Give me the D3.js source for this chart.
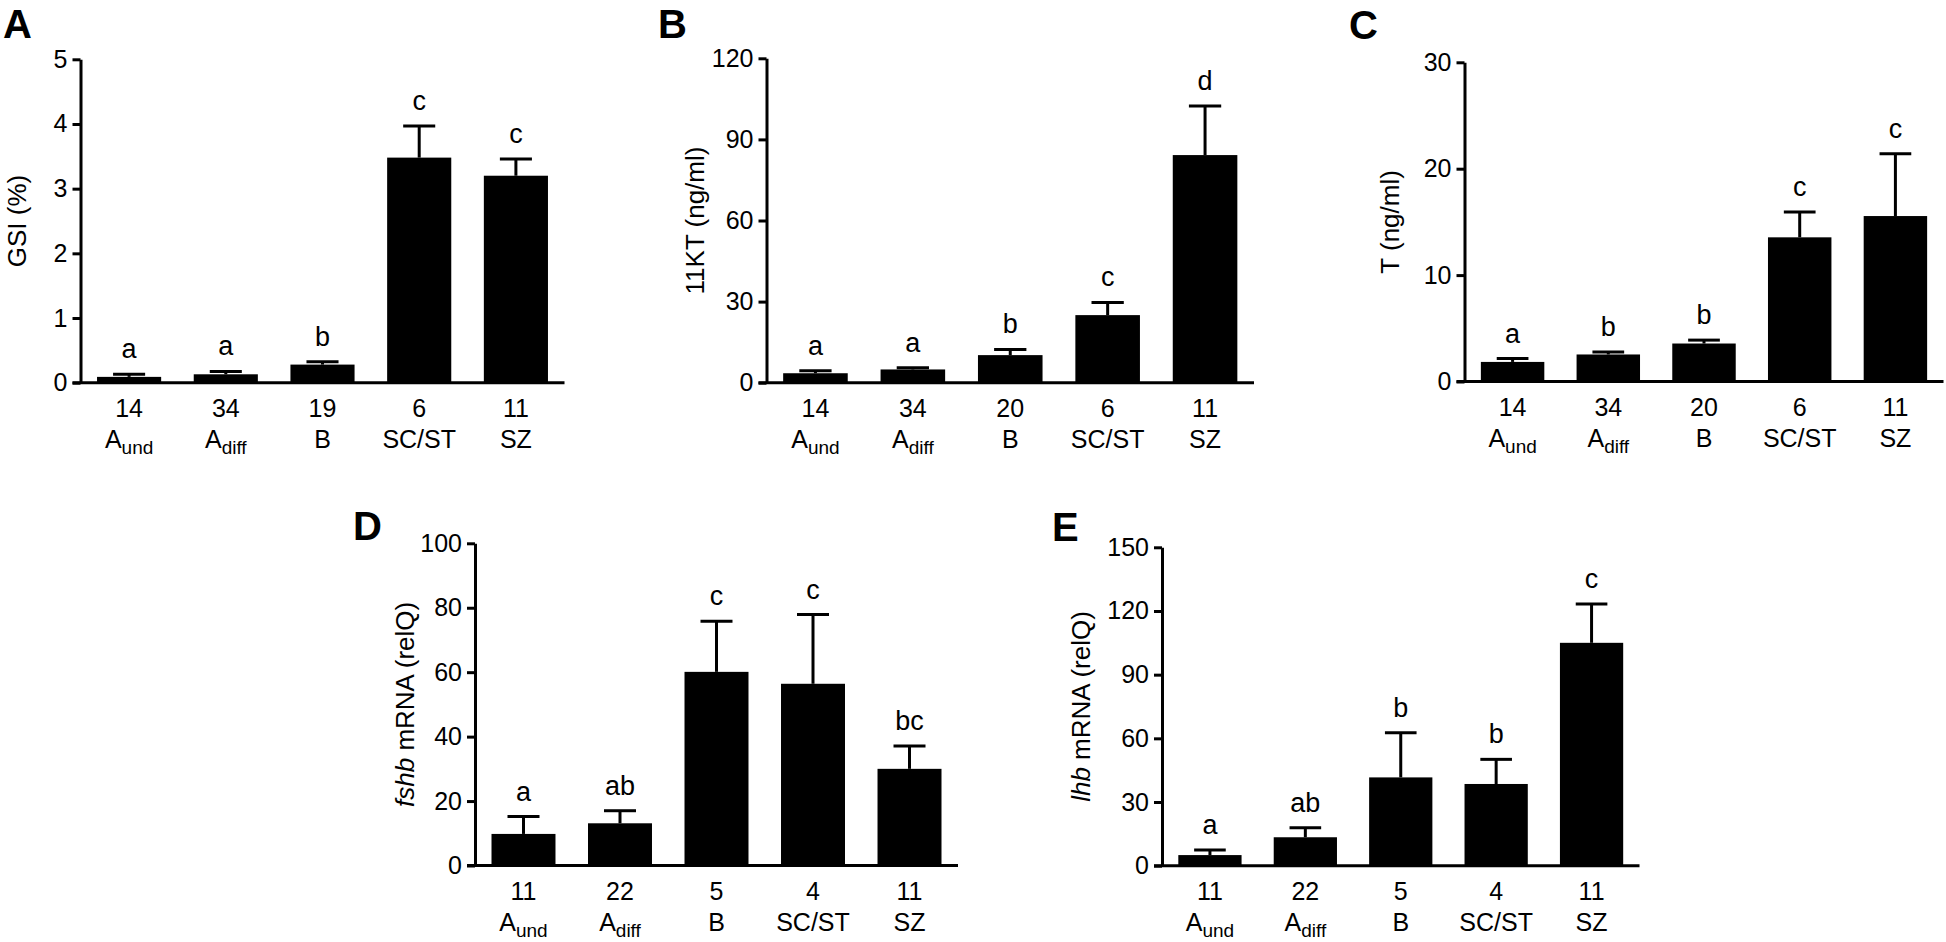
<!DOCTYPE html>
<html>
<head>
<meta charset="utf-8">
<script src="https://cdn.jsdelivr.net/npm/d3@7"></script>
<style>
  html, body { margin: 0; padding: 0; background: #ffffff; }
  svg { display: block; }
  text { font-family: "Liberation Sans", Arial, Helvetica, sans-serif; fill: #000; }
</style>
</head>
<body>
<svg id="chart" width="1946" height="942"></svg>
<script>
// ---------------- DATA ----------------
const catMain = ["A", "A", "B", "SC/ST", "SZ"];
const catSub  = ["und", "diff", "", "", ""];

// Panel A: GSI (%)
const gsiN      = [14, 34, 19, 6, 11];
const gsiMean   = [0.09, 0.13, 0.28, 3.48, 3.20];
const gsiSem    = [0.04, 0.045, 0.045, 0.49, 0.26];
const gsiLetters = ["a", "a", "b", "c", "c"];
const gsiTicks  = [0, 1, 2, 3, 4, 5];

// Panel B: 11KT (ng/ml)
const ktN       = [14, 34, 20, 6, 11];
const ktMean    = [3.5, 4.9, 10.2, 25.0, 84.2];
const ktSem     = [0.9, 0.6, 2.1, 4.7, 18.2];
const ktLetters = ["a", "a", "b", "c", "d"];
const ktTicks   = [0, 30, 60, 90, 120];

// Panel C: T (ng/ml)
const tN        = [14, 34, 20, 6, 11];
const tMean     = [1.84, 2.54, 3.57, 13.55, 15.55];
const tSem      = [0.32, 0.24, 0.32, 2.38, 5.85];
const tLetters  = ["a", "b", "b", "c", "c"];
const tTicks    = [0, 10, 20, 30];

// Panel D: fshb mRNA (relQ)
const fshbN     = [11, 22, 5, 4, 11];
const fshbMean  = [9.8, 13.1, 60.1, 56.4, 30.0];
const fshbSem   = [5.4, 3.9, 15.7, 21.5, 7.1];
const fshbLetters = ["a", "ab", "c", "c", "bc"];
const fshbTicks = [0, 20, 40, 60, 80, 100];

// Panel E: lhb mRNA (relQ)
const lhbN      = [11, 22, 5, 4, 11];
const lhbMean   = [5.0, 13.4, 41.6, 38.5, 105.0];
const lhbSem    = [2.4, 4.5, 21.0, 11.6, 18.3];
const lhbLetters = ["a", "ab", "b", "b", "c"];
const lhbTicks  = [0, 30, 60, 90, 120, 150];

// ---------------- PANELS ----------------
const panels = [
  { tag: "A", title: [{t: "GSI (%)"}], n: gsiN, mean: gsiMean, sem: gsiSem, letters: gsiLetters, ticks: gsiTicks,
    x0: 80.5, x1: 564.5, yTop: 59.3, yBot: 382.7, titleX: 17, tagX: 3, tagY: 38 },
  { tag: "B", title: [{t: "11KT (ng/ml)"}], n: ktN, mean: ktMean, sem: ktSem, letters: ktLetters, ticks: ktTicks,
    x0: 766.5, x1: 1254, yTop: 58.3, yBot: 382.7, titleX: 695, tagX: 658, tagY: 38 },
  { tag: "C", title: [{t: "T (ng/ml)"}], n: tN, mean: tMean, sem: tSem, letters: tLetters, ticks: tTicks,
    x0: 1464.5, x1: 1943.5, yTop: 62.3, yBot: 381.5, titleX: 1390, tagX: 1349, tagY: 39 },
  { tag: "D", title: [{t: "fshb", it: true}, {t: " mRNA (relQ)"}], n: fshbN, mean: fshbMean, sem: fshbSem, letters: fshbLetters, ticks: fshbTicks,
    x0: 475, x1: 958, yTop: 543.3, yBot: 865.5, titleX: 405, tagX: 353, tagY: 540 },
  { tag: "E", title: [{t: "lhb", it: true}, {t: " mRNA (relQ)"}], n: lhbN, mean: lhbMean, sem: lhbSem, letters: lhbLetters, ticks: lhbTicks,
    x0: 1162, x1: 1639.5, yTop: 547.3, yBot: 865.7, titleX: 1081, tagX: 1052, tagY: 541 }
];

const svg = d3.select("#chart");
svg.append("rect").attr("width", 1946).attr("height", 942).attr("fill", "#fff");

const SW = 3;

panels.forEach(p => {
  const g = svg.append("g");
  const idx = d3.range(catMain.length);

  const x = d3.scaleBand().domain(idx).range([p.x0, p.x1]).paddingInner(0.337).paddingOuter(0.171);
  const y = d3.scaleLinear().domain([p.ticks[0], p.ticks[p.ticks.length - 1]]).range([p.yBot, p.yTop]);

  // bars
  g.selectAll("rect.bar").data(idx).enter().append("rect")
    .attr("x", i => x(i))
    .attr("y", i => y(p.mean[i]))
    .attr("width", x.bandwidth())
    .attr("height", i => y(0) - y(p.mean[i]))
    .attr("fill", "#000");

  // error bars (upper only)
  const capW = x.bandwidth() / 2;
  idx.forEach(i => {
    const cx = x(i) + x.bandwidth() / 2;
    const top = y(p.mean[i] + p.sem[i]);
    g.append("line").attr("x1", cx).attr("x2", cx).attr("y1", y(p.mean[i])).attr("y2", top)
      .attr("stroke", "#000").attr("stroke-width", SW);
    g.append("line").attr("x1", cx - capW / 2).attr("x2", cx + capW / 2).attr("y1", top).attr("y2", top)
      .attr("stroke", "#000").attr("stroke-width", SW);
    // significance letter
    g.append("text").attr("x", cx).attr("y", top - 16)
      .attr("text-anchor", "middle").attr("font-size", 27).text(p.letters[i]);
  });

  // y axis
  const yAxis = d3.axisLeft(y).tickValues(p.ticks).tickSize(8).tickSizeOuter(0).tickPadding(5).tickFormat(d3.format("d"));
  const ya = g.append("g").attr("transform", `translate(${p.x0},0)`).call(yAxis);
  ya.select(".domain").attr("stroke", "#000").attr("stroke-width", SW);
  ya.selectAll(".tick line").attr("stroke", "#000").attr("stroke-width", SW);
  ya.selectAll(".tick text").attr("font-size", 25).attr("font-family", '"Liberation Sans", Arial, sans-serif').attr("fill", "#000");

  // x axis line (starts at tick start)
  g.append("line").attr("x1", p.x0 - 8).attr("x2", p.x1).attr("y1", y(0)).attr("y2", y(0))
    .attr("stroke", "#000").attr("stroke-width", SW);

  // x labels
  idx.forEach(i => {
    const cx = x(i) + x.bandwidth() / 2;
    g.append("text").attr("x", cx).attr("y", y(0) + 34.5)
      .attr("text-anchor", "middle").attr("font-size", 25).text(p.n[i]);
    const t = g.append("text").attr("x", cx).attr("y", y(0) + 65.5)
      .attr("text-anchor", "middle").attr("font-size", 25);
    t.append("tspan").text(catMain[i]);
    if (catSub[i]) {
      t.append("tspan").attr("font-size", 19).attr("dy", 5.5).text(catSub[i]);
    }
  });

  // y title
  const yc = (p.yTop + p.yBot) / 2;
  const tt = g.append("text")
    .attr("transform", `translate(${p.titleX},${yc}) rotate(-90)`)
    .attr("text-anchor", "middle").attr("dominant-baseline", "central")
    .attr("font-size", 26);
  p.title.forEach(s => {
    tt.append("tspan").attr("font-style", s.it ? "italic" : "normal").text(s.t);
  });

  // panel tag
  g.append("text").attr("x", p.tagX).attr("y", p.tagY)
    .attr("font-size", 40).attr("font-weight", "bold").text(p.tag);
});
</script>
</body>
</html>
